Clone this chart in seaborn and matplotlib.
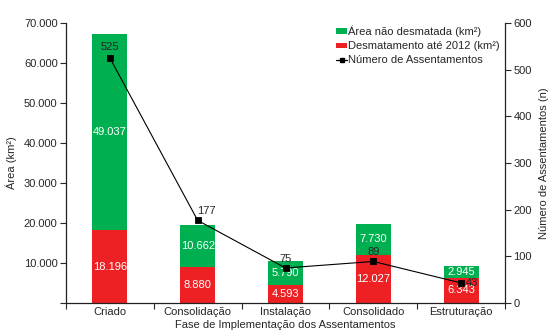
import matplotlib
matplotlib.use("Agg")
import matplotlib.pyplot as plt
import seaborn as sns
import pandas as pd
from matplotlib.patches import Patch
from matplotlib.lines import Line2D
from matplotlib.ticker import FuncFormatter, FixedLocator

categories = ["Criado", "Consolidação", "Instalação", "Consolidado", "Estruturação"]
desmatamento = [18196, 8880, 4593, 12027, 6343]
nao_desmatada = [49037, 10662, 5790, 7730, 2945]
assentamentos = [525, 177, 75, 89, 43]
line_label_offsets = [(0, 4), (6, 3), (0, 3), (0, 3), (8, 0)]

sns.set_style("ticks")
plt.rcParams["font.family"] = ["Liberation Sans", "DejaVu Sans"]
plt.rcParams["font.size"] = 8

GREEN = "#00B050"
RED = "#ED2024"

df = pd.DataFrame({
    "fase": categories,
    "red": desmatamento,
    "green": nao_desmatada,
    "n": assentamentos,
})
df["total"] = df["red"] + df["green"]

fig = plt.figure(figsize=(5.54, 3.34), dpi=100)
ax = fig.add_axes([66 / 554, 31 / 334, (505 - 66) / 554, (303 - 23) / 334])

sns.barplot(data=df, x="fase", y="total", color=GREEN, width=0.4,
            saturation=1, ax=ax, order=categories, linewidth=0, edgecolor="none")
sns.barplot(data=df, x="fase", y="red", color=RED, width=0.4,
            saturation=1, ax=ax, order=categories, linewidth=0, edgecolor="none")

fmt = lambda v: f"{v:,}".replace(",", ".")
for i, (r, g) in enumerate(zip(desmatamento, nao_desmatada)):
    ax.text(i, r / 2, fmt(r), ha="center", va="center", color="white", fontsize=8)
    ax.text(i, r + g / 2, fmt(g), ha="center", va="center", color="white", fontsize=8)

ax.set_ylim(0, 70000)
ax.set_xlim(-0.5, len(categories) - 0.5)
ax.yaxis.set_major_locator(FixedLocator(range(0, 70001, 10000)))
ax.yaxis.set_major_formatter(FuncFormatter(lambda v, p: "" if v == 0 else fmt(int(v))))
ax.set_ylabel("Área (km²)", fontsize=8, labelpad=5)
ax.set_xlabel("Fase de Implementação dos Assentamentos", fontsize=8, labelpad=2)
ax.tick_params(axis="x", which="major", length=0, pad=3, labelsize=8)
ax.set_xticks([i - 0.5 for i in range(len(categories) + 1)], minor=True)
ax.tick_params(axis="x", which="minor", length=4, width=0.8, direction="out")
ax.tick_params(axis="y", length=4, width=0.8, direction="out", pad=2, labelsize=8)
for s in ["left", "bottom"]:
    ax.spines[s].set_color("#222222")
    ax.spines[s].set_linewidth(0.9)
ax.spines["top"].set_visible(False)
ax.spines["right"].set_visible(False)

ax2 = ax.twinx()
sns.pointplot(data=df, x="fase", y="n", order=categories, color="black",
              markers="s", markersize=4, linewidth=0.8, ax=ax2, errorbar=None)
ax2.set_xlim(-0.5, len(categories) - 0.5)
ax2.set_ylim(0, 600)
ax2.yaxis.set_major_locator(FixedLocator(range(0, 601, 100)))
ax2.set_ylabel("Número de Assentamentos (n)", fontsize=8, labelpad=5)
ax2.tick_params(axis="y", length=4, width=0.8, direction="out", pad=2, labelsize=8)
for s in ["top", "left", "bottom"]:
    ax2.spines[s].set_visible(False)
ax2.spines["right"].set_visible(True)
ax2.spines["right"].set_color("#222222")
ax2.spines["right"].set_linewidth(0.9)
ax2.set_xlabel("")

for i, (v, off) in enumerate(zip(assentamentos, line_label_offsets)):
    ax2.annotate(str(v), (i, v), xytext=off, textcoords="offset points",
                 ha="center", va="bottom" if off[1] > 0 else "center", fontsize=8)

handles = [
    Patch(facecolor=GREEN, edgecolor="none"),
    Patch(facecolor=RED, edgecolor="none"),
    Line2D([0], [0], color="black", marker="s", markersize=3, linewidth=0.9),
]
labels = ["Área não desmatada (km²)", "Desmatamento até 2012 (km²)", "Número de Assentamentos"]
ax2.legend(handles, labels, loc="upper left", bbox_to_anchor=(0.6, 1.015),
           frameon=False, fontsize=8, handlelength=1.0, handleheight=0.35,
           handletextpad=0.1, labelspacing=0.38, borderaxespad=0.2)

fig.savefig("out.png", dpi=100)
